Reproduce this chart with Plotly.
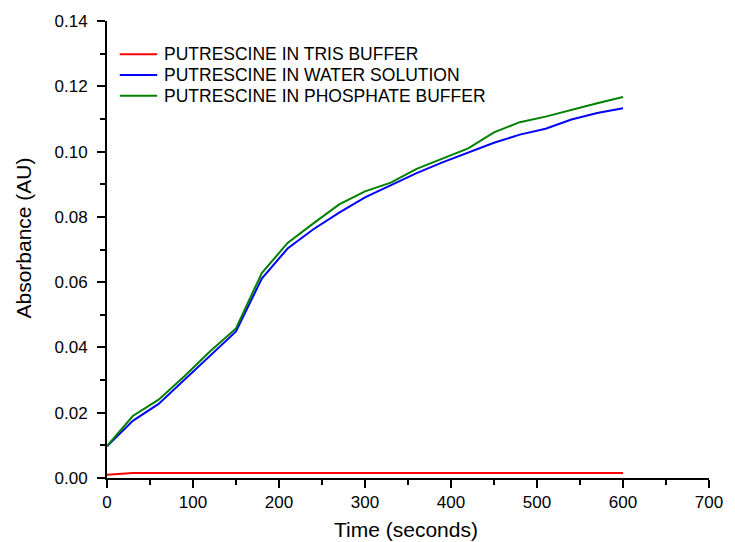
import plotly.graph_objects as go

# Sampling times (s)
time_s = [0, 30, 60, 90, 120, 150, 180, 210, 240, 270, 300,
          330, 360, 390, 420, 450, 480, 510, 540, 570, 600]

# Absorbance readings (AU)
tris_buffer = [0.0010, 0.0015, 0.0015, 0.0015, 0.0015, 0.0015, 0.0015,
               0.0015, 0.0015, 0.0015, 0.0015, 0.0015, 0.0015, 0.0015,
               0.0015, 0.0015, 0.0015, 0.0015, 0.0015, 0.0015, 0.0015]
water_solution = [0.0097, 0.0175, 0.0227, 0.0300, 0.0375, 0.0449, 0.0611,
                  0.0703, 0.0762, 0.0813, 0.0860, 0.0897, 0.0934, 0.0967,
                  0.0996, 0.1027, 0.1052, 0.1070, 0.1098, 0.1118, 0.1133]
phosphate_buffer = [0.0098, 0.0190, 0.0240, 0.0312, 0.0388, 0.0458, 0.0628,
                    0.0720, 0.0780, 0.0838, 0.0878, 0.0905, 0.0947, 0.0978,
                    0.1010, 0.1059, 0.1090, 0.1107, 0.1128, 0.1148, 0.1167]

series_names = ["PUTRESCINE IN TRIS BUFFER",
                "PUTRESCINE IN WATER SOLUTION",
                "PUTRESCINE IN PHOSPHATE BUFFER"]
series_colors = ["#ff0000", "#0000ff", "#008000"]

FONT = "Liberation Sans, Arial, sans-serif"

fig = go.Figure()
for name, values, color in zip(series_names,
                               [tris_buffer, water_solution, phosphate_buffer],
                               series_colors):
    fig.add_trace(go.Scatter(x=time_s, y=values, mode="lines", name=name,
                             showlegend=False,
                             line=dict(color=color, width=2)))

axis_common = dict(
    showgrid=False, zeroline=False, showline=True, linecolor="black",
    linewidth=2, ticks="outside", ticklen=8, tickwidth=2, tickcolor="black",
    tickfont=dict(family=FONT, size=17, color="black"),
)

fig.update_xaxes(range=[0, 700], dtick=100, tick0=0,
                 minor=dict(ticks="outside", ticklen=5, tickwidth=2,
                            tickcolor="black", dtick=50),
                 **axis_common)
fig.update_yaxes(range=[0, 0.14], dtick=0.02, tick0=0, tickformat=".2f",
                 minor=dict(ticks="outside", ticklen=5, tickwidth=2,
                            tickcolor="black", dtick=0.01),
                 ticklabelstandoff=6,
                 **axis_common)

# Compact key inside the plot area: a short line sample plus label per series
key_rows_y = [0.9273, 0.8821, 0.8362]
shapes = []
annotations = []
for name, color, yk in zip(series_names, series_colors, key_rows_y):
    shapes.append(dict(type="line", xref="paper", yref="paper",
                       x0=0.0212, x1=0.0833, y0=yk, y1=yk,
                       line=dict(color=color, width=2)))
    annotations.append(dict(text=name, xref="paper", yref="paper",
                            x=0.0915, y=yk, xanchor="left", yanchor="middle",
                            showarrow=False,
                            font=dict(family=FONT, size=17.5, color="black")))

annotations += [
    dict(text="Time (seconds)", xref="paper", yref="paper",
         x=0.4975, y=-0.1135, xanchor="center", yanchor="middle",
         showarrow=False, font=dict(family=FONT, size=21, color="black")),
    dict(text="Absorbance (AU)", xref="paper", yref="paper",
         x=-0.138, y=0.526, xanchor="center", yanchor="middle",
         textangle=-90, showarrow=False,
         font=dict(family=FONT, size=21, color="black")),
]

fig.update_layout(
    width=735, height=542,
    margin=dict(l=107, r=16, t=20, b=64),
    paper_bgcolor="white", plot_bgcolor="white",
    font=dict(family=FONT, color="black"),
    shapes=shapes,
    annotations=annotations,
)

fig.write_html("out.html")
